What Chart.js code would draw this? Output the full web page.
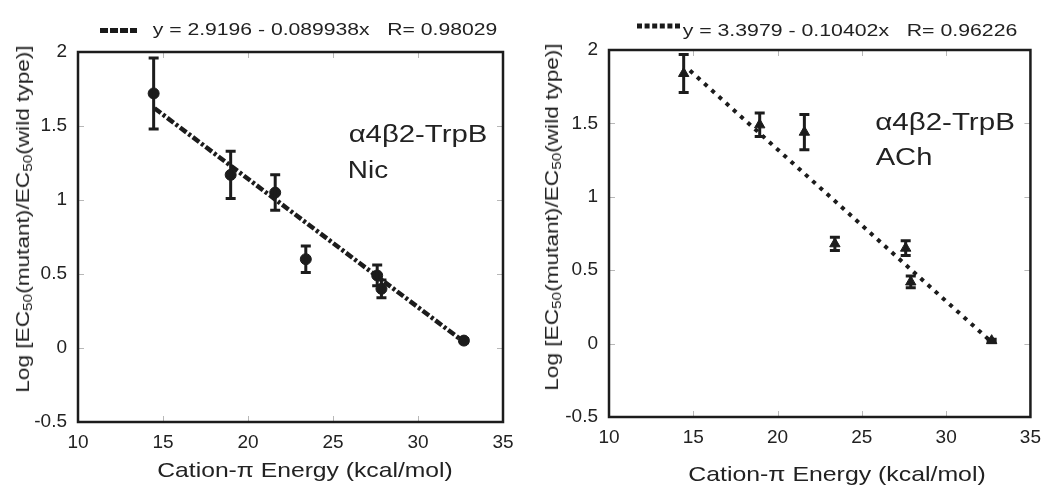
<!DOCTYPE html>
<html>
<head>
<meta charset="utf-8">
<script src="https://cdn.jsdelivr.net/npm/chart.js@4.4.1/dist/chart.umd.min.js"></script>
<style>
  body { margin: 0; width: 1050px; height: 485px; background: #fff; position: relative; overflow: hidden; }
  .panel { position: absolute; top: 0; width: 525px; height: 485px; }
  .lbl { position: absolute; white-space: nowrap; line-height: 1; color: #222;
         font-family: "Liberation Sans", Arial, sans-serif; }
  .lbl sub { font-size: 0.68em; line-height: 0; vertical-align: -0.28em; }
  svg { position: absolute; }
</style>
</head>
<body>
<div class="panel" style="left:0"><canvas id="nicChart" width="525" height="485"></canvas></div>
<div class="panel" style="left:525px"><canvas id="achChart" width="525" height="485"></canvas></div>

<svg style="left:100px; top:25px" width="38" height="11">
  <line x1="0" y1="5.5" x2="37" y2="5.5" stroke="#1a1a1a" stroke-width="5" stroke-dasharray="8 2"></line>
</svg>
<svg style="left:637px; top:21px" width="46" height="10">
  <line x1="0" y1="5" x2="45" y2="5" stroke="#1a1a1a" stroke-width="5" stroke-dasharray="5 2.6"></line>
</svg>

<script>
// axis ticks
const xTicks = [10, 15, 20, 25, 30, 35];
const yTicks = [-0.5, 0, 0.5, 1, 1.5, 2];

// alpha4beta2-TrpB, nicotine
const nicX = [14.45, 18.98, 21.6, 23.4, 27.6, 27.85, 32.7];
const nicY = [1.72, 1.17, 1.05, 0.60, 0.49, 0.40, 0.05];
const nicErr = [0.24, 0.16, 0.12, 0.09, 0.07, 0.06, 0.015];
const nicFitX = [14.5, 32.6];
const nicFitY = [1.62, 0.05];

// alpha4beta2-TrpB, acetylcholine
const achX = [14.43, 18.94, 21.59, 23.4, 27.6, 27.9, 32.7];
const achY = [1.84, 1.49, 1.44, 0.68, 0.65, 0.42, 0.02];
const achErr = [0.13, 0.08, 0.12, 0.045, 0.05, 0.04, 0.01];
const achFitX = [14.8, 32.6];
const achFitY = [1.86, 0.02];

const INK = '#1c1c1c';
const FONT = '"Liberation Sans", Arial, sans-serif';

// error bars with caps, drawn through the chart scales
const errorBars = {
    id: 'errorBars',
    afterDatasetsDraw(chart) {
        const { ctx, scales: { x, y } } = chart;
        chart.data.datasets.forEach(ds => {
            if (!ds.errs) return;
            ctx.save();
            ctx.strokeStyle = INK;
            ctx.lineWidth = 3;
            ds.data.forEach((p, i) => {
                const px = x.getPixelForValue(p.x);
                const top = y.getPixelForValue(p.y + ds.errs[i]);
                const bot = y.getPixelForValue(p.y - ds.errs[i]);
                ctx.beginPath();
                ctx.moveTo(px, top); ctx.lineTo(px, bot);
                ctx.moveTo(px - 5, top); ctx.lineTo(px + 5, top);
                ctx.moveTo(px - 5, bot); ctx.lineTo(px + 5, bot);
                ctx.stroke();
            });
            ctx.restore();
        });
    }
};

// box frame + small inner tick marks on all four sides
const frame = {
    id: 'frame',
    afterDraw(chart) {
        const { ctx, chartArea: a, scales: { x, y } } = chart;
        ctx.save();
        ctx.strokeStyle = '#b8b8b8';
        ctx.lineWidth = 1;
        ctx.beginPath();
        xTicks.forEach(v => {
            const px = Math.round(x.getPixelForValue(v)) + 0.5;
            ctx.moveTo(px, a.top); ctx.lineTo(px, a.top + 6);
            ctx.moveTo(px, a.bottom); ctx.lineTo(px, a.bottom - 6);
        });
        yTicks.forEach(v => {
            const py = Math.round(y.getPixelForValue(v)) + 0.5;
            ctx.moveTo(a.left, py); ctx.lineTo(a.left + 6, py);
            ctx.moveTo(a.right, py); ctx.lineTo(a.right - 6, py);
        });
        ctx.stroke();
        ctx.strokeStyle = INK;
        ctx.lineWidth = 2.5;
        ctx.strokeRect(a.left, a.top, a.right - a.left, a.bottom - a.top);
        ctx.restore();
    }
};

function makePanel(id, area, xs, ys, errs, fitX, fitY, marker, dash, lineWidth) {
    const W = 525, H = 485;
    return new Chart(document.getElementById(id), {
        type: 'scatter',
        data: {
            datasets: [{
                data: fitX.map((x, i) => ({ x, y: fitY[i] })),
                showLine: true,
                borderColor: INK,
                borderWidth: lineWidth,
                borderDash: dash,
                borderCapStyle: 'butt',
                pointRadius: 0
            }, {
                data: xs.map((x, i) => ({ x, y: ys[i] })),
                errs: errs,
                pointStyle: marker,
                pointRadius: marker === 'circle' ? 5.5 : 6,
                backgroundColor: INK,
                borderColor: INK,
                borderWidth: 1
            }]
        },
        options: {
            responsive: false,
            animation: false,
            events: [],
            layout: { padding: { left: 0, top: area.top, right: W - area.right, bottom: 0 } },
            plugins: { legend: { display: false }, tooltip: { enabled: false } },
            scales: {
                x: {
                    type: 'linear', min: 10, max: 35,
                    afterBuildTicks: s => { s.ticks = xTicks.map(v => ({ value: v })); },
                    afterFit: s => { s.height = H - area.bottom; },
                    grid: { display: false, drawTicks: false },
                    border: { display: false },
                    ticks: { color: '#222', font: { family: FONT, size: 19 }, padding: 9, maxRotation: 0,
                             callback: v => String(v) }
                },
                y: {
                    type: 'linear', min: -0.5, max: 2,
                    afterBuildTicks: s => { s.ticks = yTicks.map(v => ({ value: v })); },
                    afterFit: s => { s.width = area.left; },
                    grid: { display: false, drawTicks: false },
                    border: { display: false },
                    ticks: { color: '#222', font: { family: FONT, size: 19 }, padding: 11,
                             callback: v => String(v) }
                }
            }
        },
        plugins: [errorBars, frame]
    });
}

makePanel('nicChart', { left: 78, top: 52, right: 503, bottom: 422 },
    nicX, nicY, nicErr, nicFitX, nicFitY, 'circle', [8, 2.5, 3, 2.5], 4.5);
makePanel('achChart', { left: 84, top: 50, right: 509, bottom: 417 },
    achX, achY, achErr, achFitX, achFitY, 'triangle', [4, 5.7], 4);

// text placed by its centre and stretched to the width seen in the figure
function addLabel(html, cx, cy, width, size, rot) {
    const el = document.createElement('div');
    el.className = 'lbl';
    el.innerHTML = html;
    el.style.fontSize = size + 'px';
    el.style.left = cx + 'px';
    el.style.top = cy + 'px';
    document.body.appendChild(el);
    const s = width / el.offsetWidth;
    el.style.transform = `translate(-50%,-50%) rotate(${rot || 0}deg) scaleX(${s})`;
}

const yTitle = 'Log [EC<sub>50</sub>(mutant)/EC<sub>50</sub>(wild type)]';
const xTitle = 'Cation-π Energy (kcal/mol)';

addLabel('y = 2.9196 - 0.089938x&nbsp;&nbsp; R= 0.98029', 324.5, 29.5, 345, 16);
addLabel('y = 3.3979 - 0.10402x&nbsp;&nbsp; R= 0.96226', 849.5, 30.5, 335, 16);

addLabel('α4β2-TrpB', 417.5, 133.7, 139, 23);
addLabel('Nic', 368, 170, 40, 23);
addLabel('α4β2-TrpB', 945, 122, 140, 23);
addLabel('ACh', 903.5, 157, 57, 23);

addLabel(xTitle, 304.5, 469.4, 295, 21);
addLabel(xTitle, 836.5, 472.7, 297, 21);

addLabel(yTitle, 23, 218.5, 347, 18, -90);
addLabel(yTitle, 552, 216.5, 347, 18, -90);
</script>
</body>
</html>
